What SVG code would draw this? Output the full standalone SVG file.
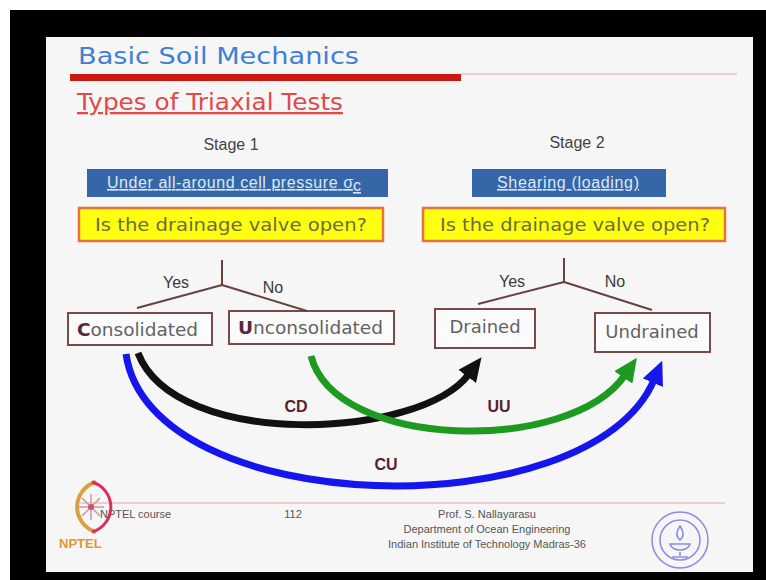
<svg xmlns="http://www.w3.org/2000/svg" width="766" height="580" viewBox="0 0 766 580">
<style>
.sans{font-family:"Liberation Sans",Arial,sans-serif}
.dv{font-family:"DejaVu Sans","Liberation Sans",sans-serif}
.stage{font-size:16px;fill:#444}
.bluebox{fill:#3567a8}
.bluetxt{font-size:16px;fill:#dfe8f6;text-decoration:underline}
.yellow{fill:#ffff10;stroke:#e8733a;stroke-width:2.5}
.ytxt{font-size:18px;fill:#6c6c3e}
.box{fill:#fbfbfb;stroke:#7a4a4a;stroke-width:2}
.btxt{font-size:18px;fill:#626262}
.first{font-weight:bold;fill:#55283a}
.yn{font-size:16px;fill:#3a3a3a}
.branch{fill:none;stroke:#6a4040;stroke-width:2}
.arc{fill:none;stroke-width:7}
.lbl{font-size:16px;font-weight:bold;fill:#5a1e2c}
.foot{font-size:11px;fill:#555}
</style>
<defs>
<marker id="ahBlack" markerUnits="userSpaceOnUse" viewBox="0 0 24 22" markerWidth="24" markerHeight="22" refX="3" refY="11" orient="auto"><path d="M0,0 L24,11 L0,22 z" fill="#111"/></marker>
<marker id="ahGreen" markerUnits="userSpaceOnUse" viewBox="0 0 24 22" markerWidth="24" markerHeight="22" refX="3" refY="11" orient="auto"><path d="M0,0 L24,11 L0,22 z" fill="#1f9a20"/></marker>
<marker id="ahBlue" markerUnits="userSpaceOnUse" viewBox="0 0 24 22" markerWidth="24" markerHeight="22" refX="3" refY="11" orient="auto"><path d="M0,0 L24,11 L0,22 z" fill="#1515ee"/></marker>
</defs>
<rect x="0" y="0" width="766" height="580" fill="#ffffff"/>
<rect x="10" y="10" width="756" height="570" fill="#000000"/>
<rect x="46" y="37" width="707" height="535" fill="#f6f6f6"/>

<g id="header">
<text x="78" y="64" class="dv" font-size="23" fill="#3f7fd6" textLength="281" lengthAdjust="spacingAndGlyphs">Basic Soil Mechanics</text>
<rect x="70" y="74" width="391" height="7" fill="#cc1a12"/>
<line x1="461" y1="74" x2="737" y2="74" stroke="#e6a4a4" stroke-width="1.2"/>
<text x="77" y="110" class="dv" font-size="23" fill="#e04a48" text-decoration="underline" textLength="266" lengthAdjust="spacingAndGlyphs">Types of Triaxial Tests</text>
</g>

<g id="stage1">
<text x="231" y="150" class="sans stage" text-anchor="middle">Stage 1</text>
</g>
<g id="stage1-condition">
<rect x="87" y="169" width="301" height="28" class="bluebox"/>
<text x="107" y="188" class="sans bluetxt" textLength="246" lengthAdjust="spacing">Under all-around cell pressure σ</text>
<text x="353" y="191" class="sans bluetxt" font-size="10">c</text>
</g>
<g id="stage1-question">
<rect x="79" y="208" width="304" height="33" class="yellow"/>
<text x="95" y="231" class="dv ytxt" textLength="272" lengthAdjust="spacingAndGlyphs">Is the drainage valve open?</text>
</g>
<g id="consolidated">
<rect x="68" y="313" width="144" height="32" class="box"/>
<text x="77" y="336" class="dv btxt" textLength="121" lengthAdjust="spacingAndGlyphs"><tspan class="first">C</tspan>onsolidated</text>
</g>
<g id="unconsolidated">
<rect x="229" y="311" width="165" height="33" class="box"/>
<text x="238" y="334" class="dv btxt" textLength="145" lengthAdjust="spacingAndGlyphs"><tspan class="first">U</tspan>nconsolidated</text>
</g>

<g id="stage2">
<text x="577" y="148" class="sans stage" text-anchor="middle">Stage 2</text>
</g>
<g id="stage2-condition">
<rect x="472" y="169" width="194" height="28" class="bluebox"/>
<text x="497" y="188" class="sans bluetxt" textLength="142" lengthAdjust="spacing">Shearing (loading)</text>
</g>
<g id="stage2-question">
<rect x="423" y="208" width="302" height="33" class="yellow"/>
<text x="440" y="231" class="dv ytxt" textLength="270" lengthAdjust="spacingAndGlyphs">Is the drainage valve open?</text>
</g>
<g id="drained">
<rect x="435" y="309" width="100" height="39" class="box"/>
<text x="485" y="333" class="dv btxt" text-anchor="middle">Drained</text>
</g>
<g id="undrained">
<rect x="595" y="313" width="115" height="39" class="box"/>
<text x="652" y="338" class="dv btxt" text-anchor="middle">Undrained</text>
</g>

<g id="connectors">
<path class="branch" d="M222,260 V285 M222,285 L137,308 M222,285 L307,311"/>
<text x="176" y="288" class="sans yn" text-anchor="middle">Yes</text>
<text x="273" y="293" class="sans yn" text-anchor="middle">No</text>
<path class="branch" d="M564,258 V282 M564,282 L478,304 M564,282 L652,310"/>
<text x="512" y="287" class="sans yn" text-anchor="middle">Yes</text>
<text x="615" y="287" class="sans yn" text-anchor="middle">No</text>

<path class="arc" stroke="#1515ee" d="M126,354 C150,520 590,530 654,380" marker-end="url(#ahBlue)"/>
<path class="arc" stroke="#111111" d="M138,353 C175,450 420,440 469,374" marker-end="url(#ahBlack)"/>
<path class="arc" stroke="#1f9a20" d="M311,356 C335,450 570,455 625,375" marker-end="url(#ahGreen)"/>
<text x="296" y="412" class="sans lbl" text-anchor="middle">CD</text>
<text x="499" y="412" class="sans lbl" text-anchor="middle">UU</text>
<text x="386" y="470" class="sans lbl" text-anchor="middle">CU</text>
</g>

<g id="footer">
<line x1="80" y1="503" x2="725" y2="503" stroke="#e6a4a4" stroke-width="1.2"/>
<text x="100" y="518" class="sans foot">NPTEL course</text>
<text x="293" y="518" class="sans foot" text-anchor="middle">112</text>
<text x="487" y="518" class="sans foot" text-anchor="middle">Prof. S. Nallayarasu</text>
<text x="487" y="533" class="sans foot" text-anchor="middle">Department  of Ocean Engineering</text>
<text x="487" y="548" class="sans foot" text-anchor="middle">Indian  Institute of Technology Madras-36</text>
</g>

<g id="nptel-logo">
<path d="M96,482 A26,26 0 0 0 96,532" fill="none" stroke="#d9a040" stroke-width="4"/>
<path d="M92,482 A26,26 0 0 1 92,532" fill="none" stroke="#d8305a" stroke-width="3"/>
<g stroke="#c89aa0" stroke-width="1.5">
<line x1="78" y1="507" x2="104" y2="507"/><line x1="91" y1="494" x2="91" y2="520"/>
<line x1="82" y1="498" x2="100" y2="516"/><line x1="82" y1="516" x2="100" y2="498"/>
</g>
<circle cx="91" cy="507" r="3" fill="#d05070"/>
<text x="59" y="548" class="sans" font-size="13" font-weight="bold" fill="#dc9a30">NPTEL</text>
</g>

<g id="iitm-logo" fill="none" stroke="#8a8ae6">
<circle cx="680" cy="540" r="28" stroke-width="1.5"/>
<circle cx="680" cy="540" r="20" stroke-width="1.5"/>
<path d="M680,526 C676,532 676,537 680,540 C684,537 684,532 680,526 Z" stroke-width="1.5"/>
<path d="M670,544 C672,552 688,552 690,544 Z" stroke-width="1.5"/>
<line x1="680" y1="552" x2="680" y2="556" stroke-width="1.5"/>
<line x1="672" y1="557" x2="688" y2="557" stroke-width="1.5"/>
</g>
</svg>
